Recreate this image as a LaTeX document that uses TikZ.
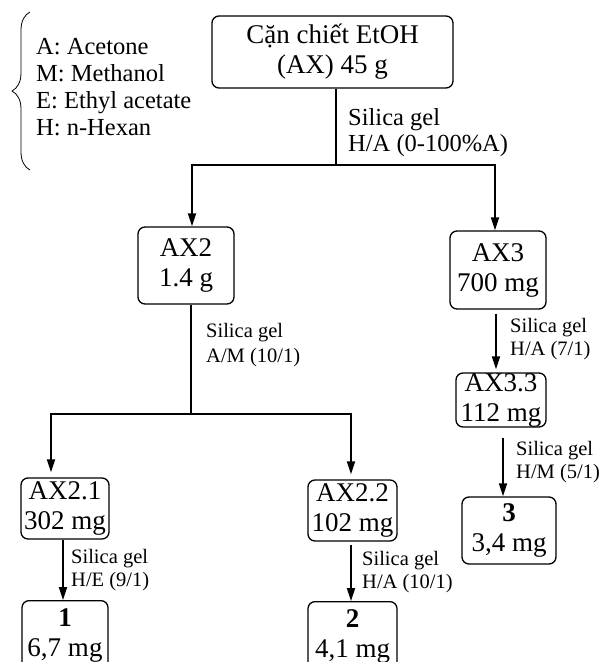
\documentclass[tikz,border=0pt]{standalone}
\usepackage{fontspec}
\setmainfont{Liberation Serif}
\usetikzlibrary{arrows.meta,decorations.pathreplacing}
\begin{document}
\begin{tikzpicture}[x=1pt,y=-1pt,
  box/.style={draw, line width=1.3pt, rounded corners=7pt, inner sep=0pt, align=center, font=\fontsize{27}{30}\selectfont},
  conn/.style={line width=1.8pt},
  arr/.style={line width=1.8pt, -{Triangle[length=13pt,width=8pt]}},
  lbl/.style={anchor=base west, inner sep=0pt, font=\fontsize{20.5}{23}\selectfont},
  biglbl/.style={anchor=base west, inner sep=0pt, font=\fontsize{24.5}{27}\selectfont},
]
\useasboundingbox (0,0) rectangle (600,662);

% legend
\draw[line width=0.8pt, decorate, decoration={brace, amplitude=18pt}] (30,170) -- (30,12);
\node[biglbl] (lg1) at (36,54) {A: Acetone};
\node[biglbl] (lg2) at (36,81) {M: Methanol};
\node[biglbl] (lg3) at (36,108) {E: Ethyl acetate};
\node[biglbl] (lg4) at (36,135) {H: n-Hexan};

% boxes
\node[box, minimum width=241pt, minimum height=72pt] (top) at (332.5,52) {Cặn chiết EtOH\\(AX) 45 g};
\node[box, minimum width=96pt, minimum height=77pt] (ax2) at (186,265.5) {AX2\\1.4 g};
\node[box, minimum width=96pt, minimum height=78pt] (ax3) at (498,270) {AX3\\700 mg};
\node[box, minimum width=90pt, minimum height=54pt] (ax33) at (501,400) {AX3.3\\112 mg};
\node[box, minimum width=94pt, minimum height=67pt] (n3) at (509,530.5) {\textbf{3}\\3,4 mg};
\node[box, minimum width=88pt, minimum height=61pt] (ax21) at (65,508.5) {AX2.1\\302 mg};
\node[box, minimum width=89pt, minimum height=61pt] (ax22) at (352.5,510.5) {AX2.2\\102 mg};
\node[box, anchor=north, inner ysep=8pt, minimum width=86pt] (n1) at (65,600) {\textbf{1}\\6,7 mg\\ \mbox{}};
\node[box, anchor=north, inner ysep=8pt, minimum width=89pt] (n2) at (352.5,601) {\textbf{2}\\4,1 mg\\ \mbox{}};

% labels
\node[biglbl] (t1) at (348,125) {Silica gel};
\node[biglbl] (t2) at (348,151) {H/A (0-100\%A)};
\node[lbl] (b1) at (206,337) {Silica gel};
\node[lbl] (b2) at (206,362) {A/M (10/1)};
\node[lbl] (c1) at (510,332) {Silica gel};
\node[lbl] (c2) at (510,355) {H/A (7/1)};
\node[lbl] (d1) at (516,455) {Silica gel};
\node[lbl] (d2) at (516,478) {H/M (5/1)};
\node[lbl] (e1) at (71,563) {Silica gel};
\node[lbl] (e2) at (71,586) {H/E (9/1)};
\node[lbl] (f1) at (362,565) {Silica gel};
\node[lbl] (f2) at (362,588) {H/A (10/1)};

% connectors
\coordinate (j1) at (336,165);
\coordinate (jl) at (192,165);
\coordinate (jr) at (495,165);
\draw[conn] (top.south -| j1) -- (j1);
\draw[arr] (j1) -| (ax2.north -| jl);
\draw[arr] (j1) -| (ax3.north -| jr);

\coordinate (j2) at (191,414);
\coordinate (kl) at (51,414);
\coordinate (kr) at (351,414);
\draw[conn] (ax2.south -| j2) -- (j2);
\draw[arr, shorten >=5pt] (j2) -| (ax21.north -| kl);
\draw[arr, shorten >=5pt] (j2) -| (ax22.north -| kr);

\coordinate (x3a) at (496,0);
\coordinate (x3b) at (503,0);
\coordinate (x1) at (63,0);
\coordinate (x2) at (351,0);
\draw[arr, shorten <=4pt, shorten >=3pt] (ax3.south -| x3a) -- (ax33.north -| x3a);
\draw[arr, shorten <=10pt] (ax33.south -| x3b) -- (n3.north -| x3b);
\draw[arr] (ax21.south -| x1) -- (n1.north -| x1);
\draw[arr, shorten <=3pt] (ax22.south -| x2) -- (n2.north -| x2);
\end{tikzpicture}
\end{document}
